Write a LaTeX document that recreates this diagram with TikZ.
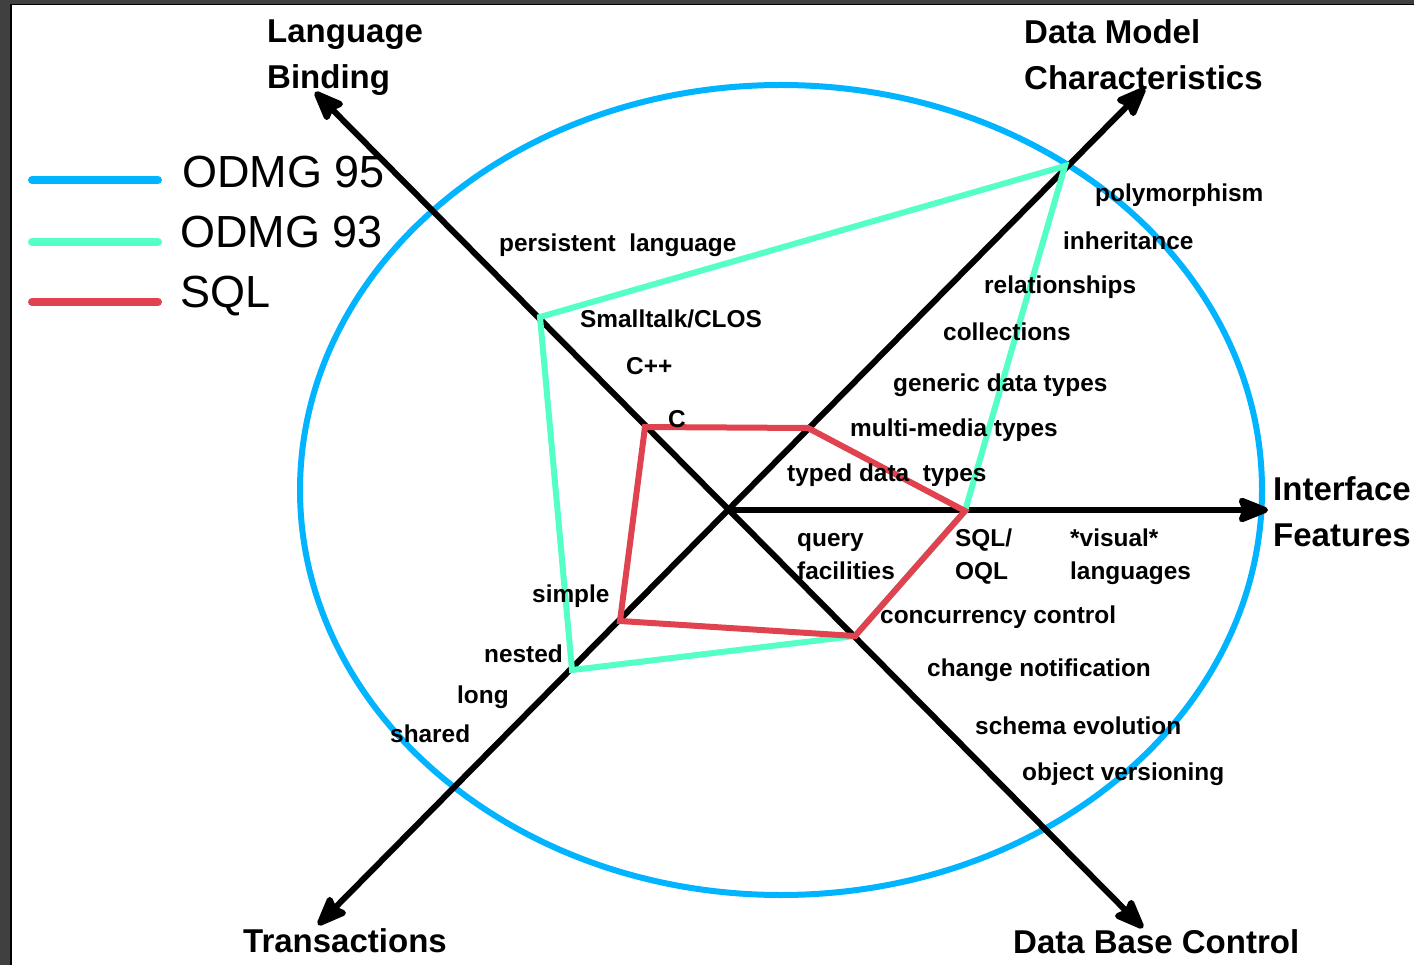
\documentclass[tikz,border=0pt]{standalone}
\usepackage{fontspec}
\setmainfont{Liberation Sans}
\usetikzlibrary{arrows.meta}

\definecolor{odmgblue}{HTML}{00B4FF}
\definecolor{odmggreen}{HTML}{55FFC8}
\definecolor{sqlred}{HTML}{E0434F}
\definecolor{framegray}{HTML}{404040}

\begin{document}
\begin{tikzpicture}[x=1pt,y={(0pt,-1pt)},>={Stealth[length=36pt,width=28pt,inset=5pt,round]},
    axis/.style={line width=6pt},
    poly/.style={line width=6pt},
    legline/.style={line width=8pt,line cap=round},
    feat/.style={anchor=base west,inner sep=0pt,align=left,font=\fontsize{24.4}{33}\selectfont\bfseries},
    axlabel/.style={anchor=base west,inner sep=0pt,align=left,font=\fontsize{33}{46}\selectfont\bfseries},
    legtext/.style={anchor=base west,inner sep=0pt,font=\fontsize{45}{54}\selectfont}]
  \useasboundingbox (0,0) rectangle (1414,965);
  \fill[white] (0,0) rectangle (1414,965);
  % window edge
  \fill[framegray] (0,0) rectangle (1414,4);
  \fill[framegray] (0,0) rectangle (10,965);
  \draw[line width=2pt] (11,4.5) -- (11,965);
  \draw[line width=1.5pt] (10,4.5) -- (1414,4.5);

  % axes
  \coordinate (o) at (730,510);
  \coordinate (lb) at (315,92);
  \coordinate (dbc) at (1143,928);
  \coordinate (dm) at (1145,88);
  \coordinate (tr) at (318,925);
  \coordinate (if) at (1268,510);

  % polygon corners
  \coordinate (g1) at (540,317);
  \coordinate (g2) at (1065,166);
  \coordinate (g3) at (965,511);
  \coordinate (g4) at (855,636);
  \coordinate (g5) at (572,670);
  \coordinate (r1) at (645,427);
  \coordinate (r2) at (808,428);
  \coordinate (r5) at (620,621);

  \draw[odmgblue,line width=6pt] (781,490) ellipse [x radius=481,y radius=405];

  \draw[axis,<->] (lb) -- (dbc);
  \draw[axis,<->] (tr) -- (dm);
  \draw[axis,->] (o) -- (if);

  \draw[poly,odmggreen] (g1) -- (g2) -- (g3) -- (g4) -- (g5) -- cycle;
  \draw[poly,sqlred] (r1) -- (r2) -- (g3) -- (g4) -- (r5) -- cycle;

  % legend
  \draw[legline,odmgblue] (32,180) -- (158,180);
  \draw[legline,odmggreen] (32,242) -- (158,242);
  \draw[legline,sqlred] (32,302) -- (158,302);
  \node[legtext] (l95) at (182,188) {ODMG 95};
  \node[legtext] (l93) at (180,248) {ODMG 93};
  \node[legtext] (lsql) at (180,308) {SQL};

  % axis names (base = last line)
  \node[axlabel] (nlb) at (267,89) {Language\\Binding};
  \node[axlabel] (ndm) at (1024,90) {Data Model\\Characteristics};
  \node[axlabel] (nif) at (1273,546) {Interface\\Features};
  \node[axlabel] (ntr) at (243,952) {Transactions};
  \node[axlabel] (ndbc) at (1013,953) {Data Base Control};

  % features
  \node[feat] (poly) at (1095,202) {polymorphism};
  \node[feat] (inh) at (1063,250) {inheritance};
  \node[feat] (rel) at (984,294) {relationships};
  \node[feat] (coll) at (943,341) {collections};
  \node[feat] (gen) at (893,392) {generic data types};
  \node[feat] (mm) at (850,437) {multi-media types};
  \node[feat] (typed) at (787,482) {typed data\ \ types};
  \node[feat] (query) at (797,579) {query\\facilities};
  \node[feat] (sqloql) at (955,579) {SQL/\\OQL};
  \node[feat] (visual) at (1070,579) {*visual*\\languages};
  \node[feat] (conc) at (880,623) {concurrency control};
  \node[feat] (chg) at (927,676) {change notification};
  \node[feat] (schema) at (975,734) {schema evolution};
  \node[feat] (vers) at (1022,780) {object versioning};
  \node[feat] (pers) at (499,252) {persistent\ \ language};
  \node[feat] (st) at (580,328) {Smalltalk/CLOS};
  \node[feat] (cpp) at (626,375) {C++};
  \node[feat] (c) at (668,428) {C};
  \node[feat] (simple) at (532,602) {simple};
  \node[feat] (nested) at (484,662) {nested};
  \node[feat] (long) at (457,703) {long};
  \node[feat] (shared) at (390,742) {shared};
\end{tikzpicture}
\end{document}
